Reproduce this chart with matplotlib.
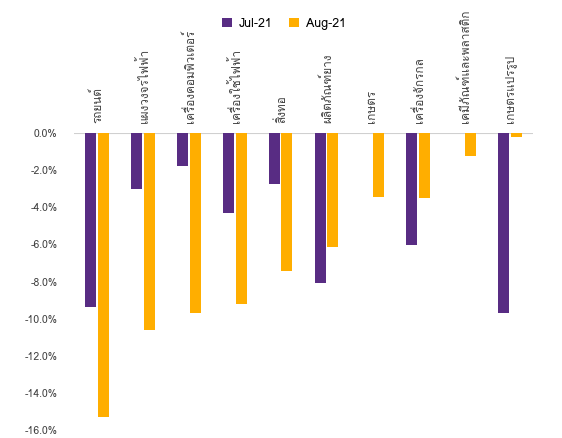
import matplotlib
matplotlib.use("Agg")
import matplotlib.pyplot as plt
from matplotlib import font_manager, ft2font
import numpy as np

# หาฟอนต์ที่มีอักษรไทย
thai_family = None
for f in font_manager.fontManager.ttflist:
    try:
        cmap = ft2font.FT2Font(f.fname).get_charmap()
    except Exception:
        continue
    if 0x0E01 in cmap and 0x0E4C in cmap:
        thai_family = f.name
        break
families = ['DejaVu Sans']
if thai_family:
    families = [thai_family, 'DejaVu Sans']
plt.rcParams['font.family'] = families

categories = ["รถยนต์", "แผงวงจรไฟฟ้า", "เครื่องคอมพิวเตอร์", "เครื่องใช้ไฟฟ้า", "สิ่งทอ",
              "ผลิตภัณฑ์ยาง", "เกษตร", "เครื่องจักรกล", "เคมีภัณฑ์และพลาสติก", "เกษตรแปรรูป"]
jul21 = [-9.4, -3.0, -1.8, -4.3, -2.75, -8.1, 0.0, -6.05, 0.0, -9.7]
aug21 = [-15.3, -10.6, -9.7, -9.2, -7.45, -6.15, -3.45, -3.5, -1.25, -0.2]

fig = plt.figure(figsize=(5.62, 4.38), dpi=100)
ax = fig.add_axes([74/562, 1-430/438, 459/562, 297/438])

x = np.arange(len(categories))
w = 0.24
ax.bar(x - 0.14, jul21, w, color="#582c83", label="Jul-21")
ax.bar(x + 0.14, aug21, w, color="#ffae00", label="Aug-21")

ax.set_xlim(-0.5, len(categories) - 0.5)
ax.set_ylim(-16, 0)
ticks = np.arange(-16, 1, 2)
ax.set_yticks(ticks)
ax.set_yticklabels(["%.1f%%" % v for v in ticks], fontsize=7.5, color="#404040")
ax.set_xticks([])
for s in ["top", "right", "left", "bottom"]:
    ax.spines[s].set_visible(False)
ax.tick_params(axis="y", length=0, pad=12)
ax.axhline(0, color="#d0d0d0", lw=0.8, zorder=0)

# ป้ายหมวดหมู่แนวตั้งเหนือแกน
for i, c in enumerate(categories):
    ax.annotate(c, (i, 0), xytext=(0, 7), textcoords="offset points",
                rotation=90, ha="center", va="bottom", fontsize=8.5, color="#404040")

fig.legend(loc="upper center", bbox_to_anchor=(0.505, 0.985), ncol=2, frameon=False,
           fontsize=9, handlelength=0.8, handleheight=0.8, columnspacing=1.4,
           handletextpad=0.5)

fig.savefig("out.png", dpi=100)
